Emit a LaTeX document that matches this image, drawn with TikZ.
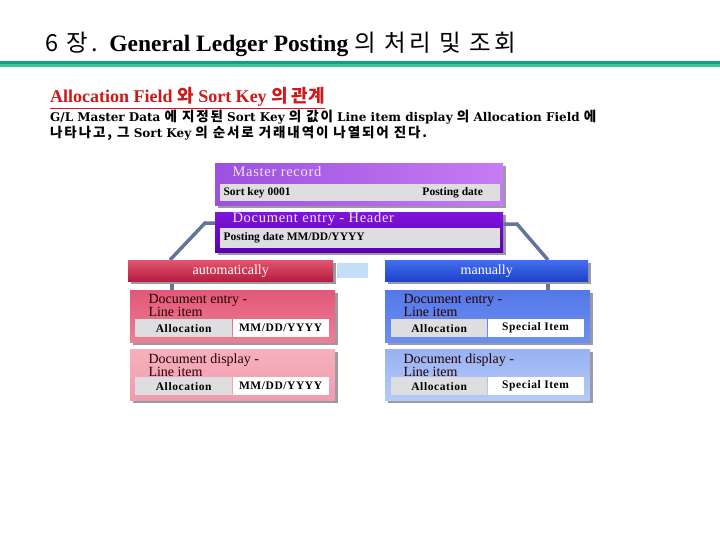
\documentclass[tikz,border=0pt]{standalone}
\usepackage{fontspec}
\setmainfont{Liberation Serif}
\newfontfamily\kr{Noto Sans CJK KR}
\newfontfamily\krwide{Noto Sans CJK KR}[LetterSpace=14]
\newfontfamily\bodyfont{DejaVu Serif}
\newfontfamily\wideserif{Liberation Serif}[LetterSpace=5]
\usetikzlibrary{calc, positioning}

\definecolor{rulegreen}{HTML}{12A07E}
\definecolor{rulelight}{HTML}{3CC49A}
\definecolor{subred}{HTML}{D01818}
\definecolor{connslate}{HTML}{64749A}
\definecolor{shadowgray}{HTML}{9A9AA4}
\definecolor{fieldgray}{HTML}{DEDEE0}
\definecolor{gapblue}{HTML}{C4DEFA}

\tikzset{
    panel/.style={draw=none, inner sep=0pt, anchor=north west},
    field/.style={draw=none, inner sep=0pt, anchor=north west},
    conn/.style={draw=connslate, line width=3.5pt},
    bartext/.style={font=\wideserif\fontsize{14.5}{17}\selectfont, text=white!90!violet, anchor=west},
    headtext/.style={font=\fontsize{14}{16}\selectfont, text=white},
    fieldtext/.style={font=\bfseries\fontsize{11.5}{13}\selectfont, anchor=west},
    celltext/.style={font=\wideserif\bfseries\fontsize{11.5}{13}\selectfont},
    itemtext/.style={font=\fontsize{14}{13}\selectfont, text=black!85!red, anchor=north west, align=left},
    bodytext/.style={anchor=base west, inner sep=0pt, font=\bodyfont\bfseries\fontsize{12}{16}\selectfont},
    masterFill/.style={left color={rgb,255:red,156;green,80;blue,222}, right color={rgb,255:red,198;green,124;blue,244}},
    headerFill/.style={top color={rgb,255:red,128;green,20;blue,220}, bottom color={rgb,255:red,90;green,0;blue,176}},
    autoFill/.style={top color={rgb,255:red,228;green,84;blue,112}, bottom color={rgb,255:red,180;green,30;blue,64}},
    manFill/.style={top color={rgb,255:red,66;green,110;blue,240}, bottom color={rgb,255:red,30;green,66;blue,200}},
    lentFill/.style={top color={rgb,255:red,226;green,88;blue,120}, bottom color={rgb,255:red,238;green,126;blue,150}},
    ldispFill/.style={top color={rgb,255:red,246;green,176;blue,190}, bottom color={rgb,255:red,240;green,156;blue,174}},
    rentFill/.style={top color={rgb,255:red,84;green,120;blue,232}, bottom color={rgb,255:red,108;green,144;blue,240}},
    rdispFill/.style={top color={rgb,255:red,152;green,178;blue,242}, bottom color={rgb,255:red,180;green,202;blue,248}},
}

% #1 name, #2 fill style, #3 top-left, #4 width, #5 height
\newcommand{\drawPanel}[5]{
    \fill[shadowgray] ($#3+(3,3)$) rectangle ++(#4,#5);
    \node[panel, #2, minimum width=#4pt, minimum height=#5pt] (#1) at #3 {};
}
% #1 name, #2 top-left, #3 gray width, #4 white width, #5 left text, #6 right text
\newcommand{\drawField}[6]{
    \node[field, fill=fieldgray, minimum width=#3pt, minimum height=18pt] (#1L) at #2 {};
    \node[field, fill=white, minimum width=#4pt, minimum height=18pt, right=0pt of #1L] (#1R) {};
    \node[celltext] at (#1L.center) {#5};
    \node[celltext] at (#1R.center) {#6};
}

\begin{document}
\begin{tikzpicture}[x=1pt, y=-1pt]
    \useasboundingbox (0,0) rectangle (720,540);

    % title and rule
    \node[anchor=base west, inner sep=0pt, font=\fontsize{23.5}{26}\selectfont] (title) at (45,52)
        {{\krwide 6 장.} \textbf{General Ledger Posting} {\krwide 의 처리 및 조회}};
    \fill[rulegreen] (0,61) rectangle (720,64);
    \fill[rulelight] (0,64) rectangle (720,67);

    % subtitle and text
    \node[anchor=base west, inner sep=0pt, text=subred, font=\bfseries\fontsize{18}{19}\selectfont] (sub) at (50,103)
        {\underline{Allocation Field {\kr 와} Sort Key {\kr 의 관계}}};
    \node[bodytext] (line1) at (50,122)
        {G/L Master Data {\krwide\fontsize{13.5}{16}\selectfont 에 지정된} Sort Key {\krwide\fontsize{13.5}{16}\selectfont 의 값이} Line item display {\krwide\fontsize{13.5}{16}\selectfont 의} Allocation Field {\krwide\fontsize{13.5}{16}\selectfont 에}};
    \node[bodytext] (line2) at (50,138)
        {{\krwide\fontsize{13.5}{16}\selectfont 나타나고, 그} Sort Key {\krwide\fontsize{13.5}{16}\selectfont 의 순서로 거래내역이 나열되어 진다.}};

    \coordinate (lbend) at (205,223);
    \coordinate (rbend) at (517,224);

    % master record
    \drawPanel{master}{masterFill}{(215,163)}{288}{42}
    \node[bartext] at (229,172) {Master record};
    \node[field, fill=fieldgray, minimum width=280pt, minimum height=17pt] (mfield) at (220,184) {};
    \node[fieldtext] at ([xshift=0pt]mfield.west) {Sort key 0001};
    \node[fieldtext, anchor=east] at ([xshift=-14pt]mfield.east) {Posting date};

    % document entry header
    \drawPanel{hdr}{headerFill}{(215,212)}{288}{40}
    \node[bartext] at (229,219) {Document entry - Header};
    \node[field, fill=fieldgray, minimum width=280pt, minimum height=20pt] (hfield) at (220,228) {};
    \node[fieldtext] at ([xshift=0pt]hfield.west) {Posting date MM/DD/YYYY};

    \draw[conn] ([yshift=9pt]hdr.west) -- (lbend) -- (170,260);
    \draw[conn] ([yshift=8pt]hdr.east) -- (rbend) -- (548,260);

    % automatically / manually
    \draw[conn] (172,281) -- (172,291);
    \draw[conn] (548,281) -- (548,291);
    \drawPanel{auto}{autoFill}{(128,260)}{205}{21}
    \node[headtext] at (auto.center) {automatically};
    \node[panel, fill=gapblue, minimum width=31pt, minimum height=15pt] (gap) at (337,263) {};
    \drawPanel{man}{manFill}{(385,260)}{203}{21}
    \node[headtext] at (man.center) {manually};

    % left column
    \drawPanel{lent}{lentFill}{(130,290)}{205}{52}
    \node[itemtext] at (145,291) {Document entry -\\Line item};
    \drawField{lentf}{(135,319)}{97}{96}{Allocation}{MM/DD/YYYY}
    \drawPanel{ldisp}{ldispFill}{(130,349)}{205}{51}
    \node[itemtext] at (145,350) {Document display -\\Line item};
    \drawField{ldispf}{(135,377)}{97}{96}{Allocation}{MM/DD/YYYY}

    % right column
    \drawPanel{rent}{rentFill}{(385,290)}{205}{52}
    \node[itemtext] at (400,291) {Document entry -\\Line item};
    \drawField{rentf}{(391,319)}{96}{96}{Allocation}{Special Item}
    \drawPanel{rdisp}{rdispFill}{(385,349)}{205}{51}
    \node[itemtext] at (400,350) {Document display -\\Line item};
    \drawField{rdispf}{(391,377)}{96}{96}{Allocation}{Special Item}
\end{tikzpicture}
\end{document}
